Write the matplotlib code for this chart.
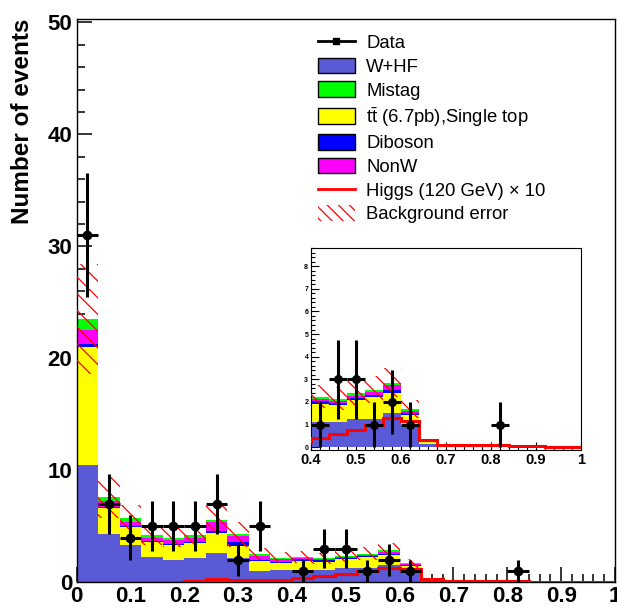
import matplotlib

matplotlib.use("Agg")

import matplotlib.pyplot as plt
import numpy as np
from matplotlib.lines import Line2D
from matplotlib.patches import Patch
from matplotlib.ticker import FuncFormatter, MultipleLocator

plt.rcParams["font.family"] = ["Liberation Sans", "DejaVu Sans"]
plt.rcParams["mathtext.fontset"] = "custom"
plt.rcParams["mathtext.rm"] = "Liberation Sans"
plt.rcParams["hatch.linewidth"] = 0.9

# 25 bins of width 0.04 on [0, 1]
BIN_WIDTH = 0.04
edges = np.arange(26) * BIN_WIDTH
centers = edges[:-1] + BIN_WIDTH / 2

# stacked backgrounds, bottom to top
whf = [10.5, 4.33, 3.3, 2.3, 2.0, 2.17, 2.64, 2.2, 0.98, 1.07, 1.1, 1.1, 1.26,
       1.26, 1.52, 0.95, 0.15, 0.07, 0.07, 0.07, 0.07, 0.03, 0.03, 0.03, 0.02]
ttbar = [10.5, 2.3, 1.6, 1.3, 1.3, 1.33, 1.75, 1.06, 0.92, 0.68, 0.82, 0.75, 0.82,
         0.97, 0.89, 0.49, 0.12, 0.02, 0.02, 0.02, 0.01, 0.01, 0.01, 0.01, 0.0]
diboson = [0.3, 0.12, 0.1, 0.1, 0.1, 0.1, 0.22, 0.3, 0.1, 0.1, 0.12, 0.1, 0.1,
           0.1, 0.12, 0.08, 0.01, 0, 0, 0, 0, 0, 0, 0, 0]
nonw = [1.2, 0.5, 0.35, 0.25, 0.35, 0.35, 0.75, 0.53, 0.35, 0.2, 0.1, 0.1, 0.1,
        0.1, 0.21, 0.1, 0.02, 0, 0, 0, 0, 0, 0, 0, 0]
mistag = [1.0, 0.4, 0.35, 0.25, 0.22, 0.25, 0.22, 0.18, 0.2, 0.15, 0.1, 0.09, 0.1,
          0.12, 0.12, 0.08, 0.01, 0, 0, 0, 0, 0, 0, 0, 0]
bkg_err = [4.9, 1.9, 1.2, 0.9, 0.85, 0.9, 1.27, 1.1, 0.55, 0.5, 0.52, 0.5, 0.55,
           0.58, 0.66, 0.4, 0.07, 0.02, 0.02, 0.02, 0.02, 0.01, 0.01, 0.01, 0.0]
higgs_x10 = [0.03, 0.03, 0.03, 0.03, 0.03, 0.12, 0.3, 0.2, 0.2, 0.25, 0.4, 0.58, 0.77,
             1.0, 1.3, 1.15, 0.3, 0.12, 0.12, 0.12, 0.12, 0.07, 0.07, 0.03, 0.0]
data = [31, 7, 4, 5, 5, 5, 7, 2, 5, 0, 1, 3, 3, 1, 2, 1, 0, 0, 0, 0, 1, 0, 0, 0, 0]

components = [
    ("W+HF", whf, "#5a5ad6"),
    (r"t$\bar{\rm t}$ (6.7pb),Single top", ttbar, "#ffff00"),
    ("Diboson", diboson, "#0000ff"),
    ("NonW", nonw, "#ff00ff"),
    ("Mistag", mistag, "#00ff00"),
]


def draw_histograms(ax, lw_data=2.2, ms=6):
    bottom = np.zeros(len(centers))
    for _, values, color in components:
        values = np.asarray(values, dtype=float)
        ax.bar(edges[:-1], values, width=BIN_WIDTH, bottom=bottom, align="edge",
               color=color, linewidth=0, zorder=2)
        bottom += values
    err = np.asarray(bkg_err, dtype=float)
    ax.bar(edges[:-1], 2 * err, width=BIN_WIDTH, bottom=bottom - err, align="edge",
           fill=False, hatch="\\\\", edgecolor="red", linewidth=0, zorder=3)
    ax.stairs(higgs_x10, edges, baseline=None, color="red", linewidth=2.2, zorder=4)
    counts = np.asarray(data, dtype=float)
    mask = counts > 0
    ax.errorbar(centers[mask], counts[mask], yerr=np.sqrt(counts[mask]),
                xerr=BIN_WIDTH / 2, fmt="o", color="black", markersize=ms,
                elinewidth=lw_data, capsize=0, zorder=5)


def number_label(v, _pos):
    return f"{v:g}"


fig = plt.figure(figsize=(6.17, 6.16), dpi=100)
ax = fig.add_axes([76.5 / 617, 1 - 582.3 / 616, 538.5 / 617, 563.3 / 616])
draw_histograms(ax)
ax.set_xlim(0, 1)
ax.set_ylim(0, 50.3)
ax.xaxis.set_major_locator(MultipleLocator(0.1))
ax.xaxis.set_minor_locator(MultipleLocator(0.02))
ax.yaxis.set_major_locator(MultipleLocator(10))
ax.yaxis.set_minor_locator(MultipleLocator(2))
ax.xaxis.set_major_formatter(FuncFormatter(number_label))
ax.tick_params(which="both", direction="in", top=False, right=False, width=1.1)
ax.tick_params(which="major", length=11, pad=3, labelsize=16)
ax.tick_params(which="minor", length=6)
for lab in ax.get_xticklabels() + ax.get_yticklabels():
    lab.set_fontweight("bold")
for spine in ax.spines.values():
    spine.set_linewidth(1.0)
ax.set_ylabel("Number of events", fontsize=17.5, fontweight="bold", loc="top")
ax.yaxis.set_label_coords(-0.101, 1.0)
ax.yaxis.label.set_verticalalignment("center")

handles = [
    Line2D([], [], color="black", linewidth=2, marker="s", markersize=4),
    Patch(facecolor=components[0][2], edgecolor="black", linewidth=1),
    Patch(facecolor=components[4][2], edgecolor="black", linewidth=1),
    Patch(facecolor=components[1][2], edgecolor="black", linewidth=1),
    Patch(facecolor=components[2][2], edgecolor="black", linewidth=1),
    Patch(facecolor=components[3][2], edgecolor="black", linewidth=1),
    Line2D([], [], color="red", linewidth=2),
    Patch(facecolor="none", edgecolor="red", hatch="\\\\\\", linewidth=0),
]
labels = ["Data", "W+HF", "Mistag", components[1][0], "Diboson", "NonW",
          "Higgs (120 GeV) \u00d7 10", "Background error"]
fig.legend(handles, labels, loc="upper left", bbox_to_anchor=(318 / 617, 1 - 34 / 616),
           frameon=False, fontsize=13.3, handlelength=2.0, handleheight=0.92,
           handletextpad=0.6, labelspacing=0.3, borderpad=0, borderaxespad=0)

# zoomed view of the high-score tail
inset = fig.add_axes([311 / 617, 1 - 450 / 616, 270 / 617, 202 / 616])
draw_histograms(inset, lw_data=2.2, ms=5.5)
inset.set_xlim(0.4, 1.0)
inset.set_ylim(-0.12, 8.8)
inset.xaxis.set_major_locator(MultipleLocator(0.1))
inset.xaxis.set_minor_locator(MultipleLocator(0.02))
inset.yaxis.set_major_locator(MultipleLocator(1))
inset.yaxis.set_minor_locator(MultipleLocator(0.2))
inset.xaxis.set_major_formatter(FuncFormatter(number_label))
inset.tick_params(which="both", direction="in", top=False, right=False, width=0.8)
inset.tick_params(which="major", length=6, pad=2)
inset.tick_params(which="minor", length=3)
inset.tick_params(axis="x", labelsize=10.5)
inset.tick_params(axis="y", labelsize=5)
for lab in inset.get_xticklabels() + inset.get_yticklabels():
    lab.set_fontweight("bold")
for spine in inset.spines.values():
    spine.set_linewidth(0.8)

fig.savefig("out.png", dpi=100)
